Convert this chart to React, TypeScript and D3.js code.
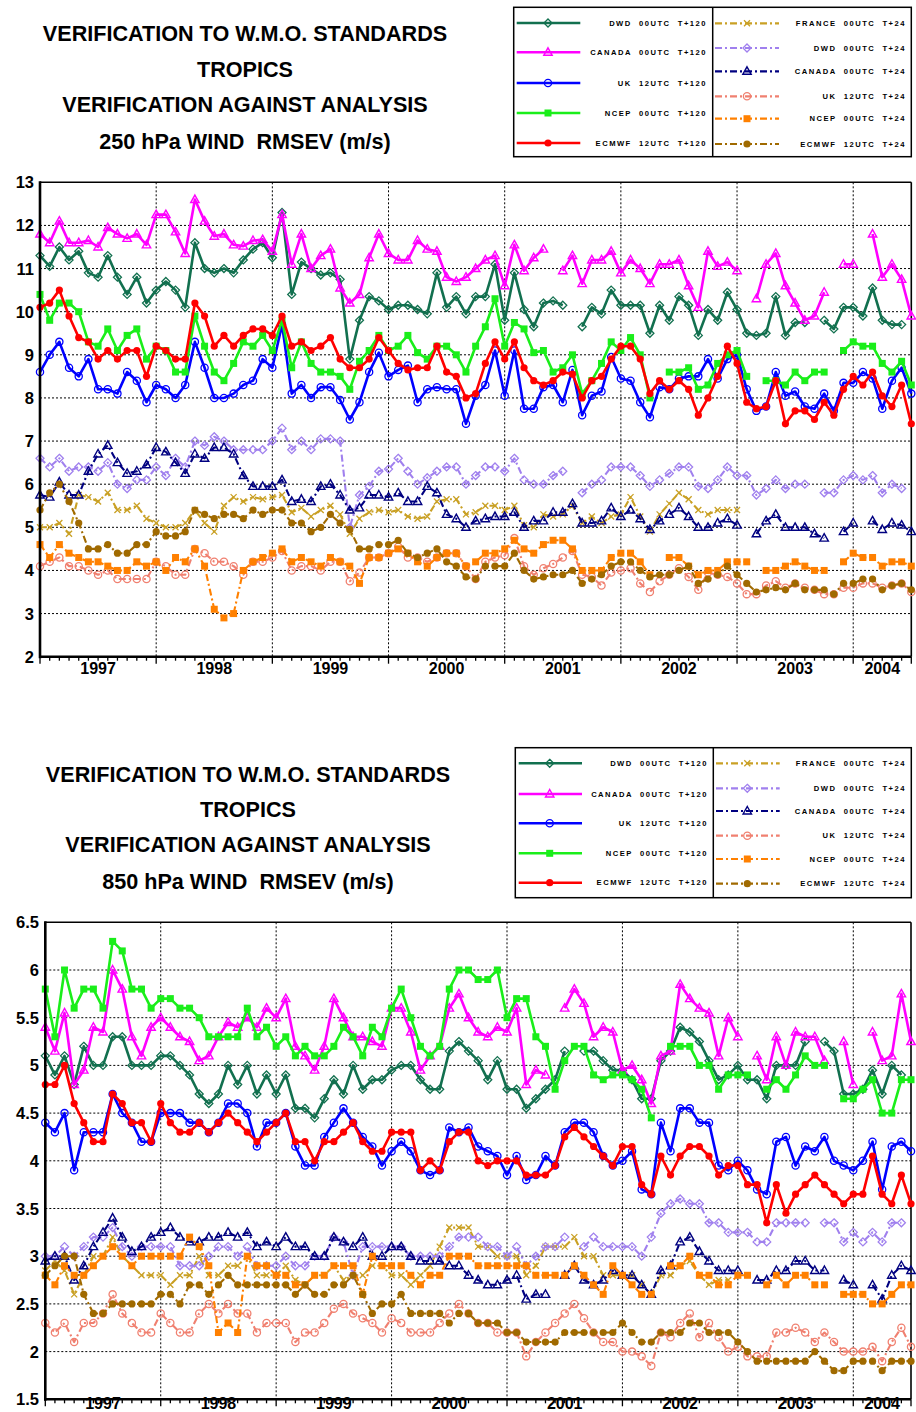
import React from "react";
import * as d3 from "d3";

const _ = null;
const N = 91;
const MONTHS = d3.range(N);
const YEARS = ["1997", "1998", "1999", "2000", "2001", "2002", "2003", "2004"];
const YEAR_BOUNDS = [0, 12, 24, 36, 48, 60, 72, 84, 90];
const Y_TICKS_250 = [2, 3, 4, 5, 6, 7, 8, 9, 10, 11, 12, 13];
const Y_TICKS_850 = [1.5, 2, 2.5, 3, 3.5, 4, 4.5, 5, 5.5, 6, 6.5];
const TITLE_250 = ["VERIFICATION TO W.M.O. STANDARDS", "TROPICS", "VERIFICATION AGAINST ANALYSIS", "250 hPa WIND  RMSEV (m/s)"];
const TITLE_850 = ["VERIFICATION TO W.M.O. STANDARDS", "TROPICS", "VERIFICATION AGAINST ANALYSIS", "850 hPa WIND  RMSEV (m/s)"];

// ---------- 250 hPa ----------
const DWD120_250 = [11.3, 11.05, 11.5, 11.2, 11.4, 10.9, 10.8, 11.3, 10.8, 10.4, 10.8, 10.2, 10.5, 10.7, 10.5, 10.1, 11.6, 11.0, 10.9, 11.0, 10.9,
  11.2, 11.45, 11.6, 11.25, 12.3, 10.4, 11.15, 11.0, 10.85, 10.9, 10.75, 8.9, 9.8, 10.35, 10.25, 10.05, 10.15, 10.15, 10.05, 9.95, 10.9, 10.1, 10.35, 9.95,
  10.35, 10.35, 11.1, 9.8, 10.9, 10.05, 9.65, 10.2, 10.25, 10.15, _, 9.65, 10.1, 9.95, 10.5, 10.15, 10.15, 10.15, 9.5, 10.15, 9.8, 10.35, 10.15,
  9.45, 10.05, 9.8, 10.45, 10.05, 9.5, 9.45, 9.5, 10.35, 9.45, 9.75, 9.75, _, 9.8, 9.6, 10.1, 10.1, 9.9, 10.55, 9.8, 9.7, 9.7, _];
const CAN120_250 = [11.8, 11.6, 12.1, 11.6, 11.6, 11.65, 11.5, 11.95, 11.8, 11.7, 11.8, 11.55, 12.25, 12.25, 11.85, 11.35, 12.6, 12.1, 11.75, 11.8, 11.55,
  11.52, 11.65, 11.67, 11.4, 12.25, 11.1, 11.8, 11.0, 11.3, 11.45, 10.55, 10.2, 10.4, 11.25, 11.8, 11.35, 11.2, 11.2, 11.65, 11.45, 11.4, 10.8, 10.7, 10.8,
  11.0, 11.2, 11.3, 10.6, 11.55, 10.95, 11.25, 11.45, _, 10.95, 11.3, 10.65, 11.2, 11.2, 11.4, 10.9, 11.2, 11.0, 10.65, 11.1, 11.1, 11.2, 10.6,
  10.1, 11.4, 11.05, 11.15, 10.95, _, 10.3, 11.1, 11.35, 10.6, 10.2, 9.8, 9.9, 10.45, _, 11.1, 11.1, _, 11.8, 10.8, 11.1, 10.75, 9.9];
const UK120_250 = [8.6, 9.0, 9.3, 8.7, 8.5, 8.9, 8.2, 8.2, 8.1, 8.6, 8.4, 7.9, 8.3, 8.2, 8.0, 8.3, 9.3, 8.7, 8.0, 8.0, 8.1,
  8.3, 8.4, 8.9, 8.7, 9.7, 8.1, 8.3, 8.0, 8.25, 8.25, 7.95, 7.5, 7.9, 8.6, 9.05, 8.5, 8.65, 8.75, 7.9, 8.2, 8.25, 8.2, 8.2, 7.4,
  8.05, 8.3, 9.1, 8.05, 9.1, 7.75, 7.75, 8.25, 8.3, 7.9, 8.65, 7.6, 8.05, 8.15, 8.95, 8.45, 8.4, 7.9, 7.55, 8.25, 8.2, 8.45, 8.5,
  8.5, 8.9, 8.45, 8.9, 9.0, 8.2, 7.7, 7.8, 8.6, 8.05, 8.15, 7.8, 7.75, 8.1, 7.7, 8.35, 8.35, 8.6, 8.45, 7.75, 8.4, 8.7, 8.1];
const NCEP120_250 = [10.4, 9.8, 10.2, 10.2, 10.0, 9.3, 9.2, 9.6, 9.1, 9.45, 9.6, 8.9, 9.2, 9.1, 8.6, 8.6, 9.9, 9.2, 8.6, 8.4, 8.8,
  9.3, 9.2, 9.45, 9.1, 9.8, 8.7, 9.3, 8.8, 8.6, 8.6, 8.5, 8.2, 8.85, 9.1, 9.45, 9.1, 9.2, 9.45, 9.05, 8.9, 9.2, 9.2, 9.0, 8.6,
  9.2, 9.65, 10.3, 9.2, 9.75, 9.6, 9.05, 9.1, 8.6, 8.7, 9.0, 8.1, 8.4, 8.8, 9.3, 9.1, 9.4, 9.0, 8.0, _, 8.6, 8.6, 8.7,
  8.2, 8.3, 8.8, 9.0, 9.1, 8.5, _, 8.4, 8.4, 8.3, 8.6, 8.4, 8.6, 8.6, _, 9.1, 9.3, 9.2, 9.2, 8.8, 8.6, 8.85, 8.3];
const ECM120_250 = [10.1, 10.2, 10.5, 9.9, 9.4, 9.3, 8.9, 9.1, 8.9, 9.1, 9.1, 8.5, 9.2, 9.1, 8.9, 8.9, 10.2, 9.9, 9.2, 9.45, 9.2,
  9.45, 9.6, 9.6, 9.45, 9.9, 9.2, 9.3, 9.1, 9.2, 9.4, 8.9, 8.7, 8.7, 8.9, 9.4, 9.1, 8.8, 8.65, 8.7, 8.7, 9.2, 8.6, 8.5, 8.0,
  8.1, 8.8, 9.3, 8.9, 9.3, 8.7, 8.4, 8.3, 8.4, 8.6, 8.55, 8.0, 8.4, 8.5, 8.9, 9.2, 9.2, 8.9, 8.1, 8.4, 8.2, 8.4, 8.2,
  7.6, 8.0, 8.5, 9.2, 8.8, 7.9, 7.75, 7.8, 8.4, 7.4, 7.7, 7.7, 7.5, 7.9, 7.6, 8.2, 8.5, 8.3, 8.6, 8.05, 7.8, 8.3, 7.4];
const FRA24_250 = [5.0, 5.0, 5.1, 4.85, 5.75, 5.7, 5.6, 5.8, 5.4, 5.4, 5.5, 5.2, 5.1, 5.0, 5.0, 5.1, 5.4, 5.1, 4.9, 5.5, 5.7,
  5.6, 5.7, 5.65, 5.7, 5.75, 5.35, 5.45, 5.25, 5.4, 5.5, 5.3, 4.85, 5.2, 5.35, 5.4, 5.35, 5.4, 5.25, 5.2, 5.25, 5.6, 5.65, 5.65, 5.3,
  5.35, 5.5, 5.5, 5.4, 5.5, 5.05, 5.0, 5.3, 5.25, 5.3, 5.5, 5.1, 5.25, 5.1, 5.25, 5.3, 5.7, 5.25, 4.9, 5.3, 5.55, 5.8, 5.65,
  5.4, 5.3, 5.4, 5.4, 5.4, _, _, _, _, _, _, _, _, _, _, _, _, _, _, _, _, _, _];
const DWD24_250 = [6.6, 6.4, 6.6, 6.3, 6.4, 6.4, 6.3, 6.5, 6.0, 5.9, 6.1, 6.1, 6.4, 6.2, 6.6, 6.4, 7.0, 6.9, 7.1, 7.0, 6.8,
  6.8, 6.8, 6.8, 7.0, 7.3, 6.8, 7.0, 6.8, 7.05, 7.05, 7.0, 5.0, 5.75, 5.95, 6.3, 6.35, 6.6, 6.3, 6.0, 6.15, 6.3, 6.4, 6.4, 6.0,
  6.2, 6.4, 6.4, 6.3, 6.6, 6.1, 6.0, 6.0, 6.2, 6.3, _, 5.8, 6.0, 6.1, 6.4, 6.4, 6.4, 6.2, 5.95, 6.1, 6.25, 6.4, 6.4,
  5.95, 5.9, 6.1, 6.4, 6.2, 6.2, 5.75, 5.9, 6.1, 5.9, 6.0, 6.0, _, 5.8, 5.8, 6.1, 6.2, 6.1, 6.2, 5.8, 6.0, 5.9, _];
const CAN24_250 = [5.75, 5.7, 6.05, 5.75, 5.75, 6.3, 6.7, 6.9, 6.5, 6.25, 6.3, 6.45, 6.85, 6.75, 6.5, 6.25, 6.7, 6.6, 6.85, 6.85, 6.7,
  6.2, 5.95, 5.95, 5.95, 6.1, 5.6, 5.65, 5.6, 5.95, 6.0, 5.75, 5.4, 5.45, 5.75, 5.75, 5.7, 5.8, 5.6, 5.6, 5.95, 5.8, 5.3, 5.2, 5.0,
  5.15, 5.2, 5.25, 5.25, 5.35, 5.0, 5.15, 5.15, 5.35, 5.35, 5.55, 5.1, 5.1, 5.15, 5.45, 5.25, 5.4, 5.2, 4.95, 5.15, 5.3, 5.45, 5.25,
  5.0, 5.0, 5.1, 5.2, 5.05, _, 4.85, 5.15, 5.3, 5.0, 5.0, 5.0, 4.85, 4.75, _, 4.9, 5.1, _, 5.15, 4.95, 5.1, 5.05, 4.9];
const UK24_250 = [4.1, 4.2, 4.3, 4.1, 4.1, 4.0, 3.9, 4.0, 3.8, 3.8, 3.8, 3.8, 4.2, 4.1, 3.9, 3.9, 4.5, 4.4, 4.2, 4.2, 4.1,
  3.9, 4.2, 4.2, 4.3, 4.45, 4.0, 4.1, 4.1, 4.0, 4.2, 4.2, 3.75, 3.95, 4.3, 4.3, 4.4, 4.55, 4.3, 4.3, 4.2, 4.3, 4.4, 4.4, 4.1,
  3.8, 4.2, 4.3, 4.35, 4.75, 4.1, 3.9, 4.05, 4.15, 4.3, 4.45, 3.9, 3.85, 3.65, 3.95, 4.0, 4.05, 3.7, 3.5, 3.75, 3.9, 4.05, 3.85,
  3.55, 3.95, 3.9, 3.85, 3.7, 3.45, 3.45, 3.65, 3.75, 3.6, 3.7, 3.6, 3.55, 3.45, 3.45, 3.6, 3.6, 3.7, 3.7, 3.6, 3.65, 3.7, 3.5];
const NCEP24_250 = [4.6, 4.3, 4.6, 4.4, 4.3, 4.2, 4.2, 4.1, 4.0, 4.0, 4.2, 4.1, 4.2, 4.0, 4.3, 4.2, 4.5, 4.1, 3.1, 2.9, 3.0,
  4.0, 4.2, 4.3, 4.4, 4.5, 4.2, 4.3, 4.2, 4.1, 4.3, 4.2, 4.1, 3.7, 4.3, 4.3, 4.4, 4.5, 4.4, 4.2, 4.1, 4.3, 4.4, 4.4, 4.1,
  4.2, 4.4, 4.4, 4.5, 4.7, 4.5, 4.4, 4.6, 4.7, 4.7, 4.5, 4.0, 4.0, 4.0, 4.3, 4.4, 4.4, 4.2, 3.9, _, 4.3, 4.3, 4.1,
  3.9, 4.0, 4.0, 4.2, 4.2, 4.2, _, 4.0, 4.0, 4.1, 4.2, 4.1, 4.0, 4.0, _, 4.2, 4.4, 4.3, 4.3, 4.1, 4.2, 4.2, 4.1];
const ECM24_250 = [5.4, 5.8, 6.0, 5.6, 5.1, 4.5, 4.5, 4.6, 4.4, 4.4, 4.6, 4.6, 4.9, 4.8, 4.8, 4.9, 5.4, 5.3, 5.2, 5.3, 5.3,
  5.2, 5.4, 5.3, 5.4, 5.4, 5.1, 5.1, 4.9, 5.0, 5.3, 5.1, 4.95, 4.5, 4.5, 4.6, 4.6, 4.7, 4.4, 4.3, 4.4, 4.5, 4.2, 4.1, 3.85,
  3.8, 4.1, 4.1, 4.1, 4.4, 4.0, 3.8, 3.85, 3.9, 3.9, 4.0, 3.7, 3.8, 3.9, 4.1, 4.2, 4.2, 4.0, 3.85, 3.9, 3.9, 4.0, 4.1,
  3.7, 3.8, 3.9, 4.1, 3.9, 3.7, 3.5, 3.55, 3.6, 3.55, 3.7, 3.55, 3.55, 3.55, 3.45, 3.7, 3.7, 3.8, 3.8, 3.55, 3.65, 3.7, 3.55];

// ---------- 850 hPa ----------
const DWD120_850 = [5.1, 4.9, 5.1, 4.8, 5.2, 5.0, 5.0, 5.3, 5.3, 5.0, 5.0, 5.0, 5.1, 5.1, 5.0, 4.9, 4.7, 4.6, 4.7, 5.0, 4.8,
  5.0, 4.7, 4.9, 4.7, 4.9, 4.55, 4.55, 4.45, 4.65, 4.85, 4.7, 5.0, 4.75, 4.85, 4.85, 4.95, 5.0, 5.0, 4.85, 4.75, 4.75, 5.15, 5.25, 5.15,
  5.05, 4.85, 5.05, 4.75, 4.75, 4.55, 4.65, 4.75, 4.85, 5.15, _, 5.15, 5.15, 5.05, 4.95, 4.95, 4.85, 4.65, 4.65, 5.05, 5.15, 5.4, 5.35,
  5.25, 5.05, 4.85, 4.9, 5.0, 4.85, 4.85, 4.65, 5.0, 5.0, 5.0, 5.25, _, 5.25, 5.15, 4.7, 4.7, 4.75, 4.95, 4.7, 5.0, 4.9, _];
const CAN120_850 = [5.4, 5.15, 5.55, 4.8, 4.95, 5.4, 5.35, 6.0, 5.8, 5.3, 5.1, 5.4, 5.5, 5.4, 5.3, 5.25, 5.05, 5.1, 5.3, 5.45, 5.4,
  5.5, 5.4, 5.6, 5.5, 5.7, 5.2, 5.1, 4.95, 5.2, 5.7, 5.5, 5.3, 5.3, 5.25, 5.2, 5.6, 5.6, 5.35, 4.95, 5.1, 5.2, 5.6, 5.75, 5.5,
  5.35, 5.3, 5.4, 5.35, 5.6, 4.8, 4.95, 4.9, _, 5.6, 5.8, 5.65, 5.3, 5.4, 5.35, 4.95, 5.0, 4.85, 4.6, 5.1, 5.15, 5.85, 5.7,
  5.6, 5.55, 5.1, 5.5, 5.3, _, 5.1, 4.85, 5.3, 5.0, 5.35, 5.3, 5.3, 5.05, _, 5.25, 4.8, _, 5.35, 5.05, 5.1, 5.75, 5.25];
const UK120_850 = [4.4, 4.3, 4.5, 3.9, 4.3, 4.3, 4.3, 4.7, 4.5, 4.4, 4.2, 4.2, 4.5, 4.5, 4.5, 4.4, 4.4, 4.3, 4.4, 4.6, 4.6,
  4.5, 4.15, 4.4, 4.4, 4.5, 4.15, 3.95, 3.95, 4.25, 4.4, 4.55, 4.4, 4.25, 4.15, 3.95, 4.1, 4.2, 4.1, 3.9, 3.85, 3.9, 4.35, 4.3, 4.35,
  4.15, 4.1, 4.05, 3.85, 4.05, 3.8, 3.85, 4.05, 3.95, 4.3, 4.4, 4.4, 4.3, 4.05, 3.95, 4.0, 4.1, 3.7, 3.65, 4.4, 4.1, 4.55, 4.55,
  4.4, 4.4, 3.95, 3.9, 4.0, 3.9, 3.7, 3.65, 4.2, 4.25, 3.95, 4.15, 4.1, 4.25, 4.0, 3.95, 3.9, 4.0, 4.2, 3.7, 4.15, 4.2, 4.1];
const NCEP120_850 = [5.8, 5.3, 6.0, 5.6, 5.8, 5.8, 5.6, 6.3, 6.2, 5.8, 5.8, 5.6, 5.7, 5.7, 5.6, 5.6, 5.5, 5.3, 5.3, 5.3, 5.3,
  5.6, 5.3, 5.4, 5.2, 5.3, 5.1, 5.2, 5.1, 5.1, 5.2, 5.4, 5.3, 5.1, 5.4, 5.3, 5.6, 5.8, 5.5, 5.2, 5.1, 5.2, 5.8, 6.0, 6.0,
  5.9, 5.9, 6.0, 5.5, 5.7, 5.7, 5.3, 5.2, 4.75, 5.05, 5.2, 5.2, 4.9, 4.85, 4.9, 4.9, 4.85, 4.75, 4.45, _, 5.2, 5.2, 5.2,
  5.0, 5.0, 4.75, 4.9, 4.9, 4.9, _, 4.75, 4.85, 4.75, 4.9, 5.1, 5.0, 5.0, _, 4.65, 4.65, 4.75, 4.85, 4.5, 4.5, 4.85, 4.85];
const ECM120_850 = [4.8, 4.8, 5.0, 4.6, 4.4, 4.2, 4.2, 4.7, 4.6, 4.4, 4.4, 4.2, 4.6, 4.4, 4.3, 4.3, 4.4, 4.3, 4.4, 4.5, 4.4,
  4.3, 4.2, 4.3, 4.4, 4.5, 4.2, 4.2, 4.0, 4.2, 4.2, 4.3, 4.4, 4.2, 4.1, 4.1, 4.3, 4.3, 4.3, 3.9, 4.0, 3.9, 4.2, 4.3, 4.3,
  4.0, 3.95, 4.0, 4.0, 4.0, 3.85, 3.85, 3.85, 3.95, 4.25, 4.35, 4.25, 4.15, 4.05, 3.95, 4.15, 4.15, 3.75, 3.65, 4.05, 3.85, 4.05, 4.15,
  4.15, 4.05, 3.85, 3.95, 3.95, 3.75, 3.75, 3.35, 3.75, 3.45, 3.65, 3.75, 3.85, 3.75, 3.65, 3.55, 3.65, 3.65, 4.05, 3.65, 3.55, 3.85, 3.55];
const FRA24_850 = [2.85, 2.95, 2.85, 2.6, 2.8, 3.0, 3.0, 3.2, 3.0, 2.9, 2.8, 2.8, 2.8, 2.7, 2.8, 2.8, 3.0, 2.8, 2.8, 2.9, 2.9,
  3.0, 2.8, 2.8, 2.8, 2.9, 2.75, 2.7, 2.8, 2.8, 2.9, 2.75, 2.8, 2.8, 2.9, 2.9, 2.8, 2.8, 2.7, 2.8, 2.9, 3.1, 3.3, 3.3, 3.3,
  3.1, 3.1, 3.0, 3.0, 3.0, 2.8, 2.9, 3.1, 3.1, 3.1, 3.2, 3.0, 3.0, 2.8, 2.8, 2.8, 2.8, 2.7, 2.6, 2.8, 2.8, 2.9, 2.95,
  2.8, 2.7, 2.75, 2.75, _, _, _, _, _, _, _, _, _, _, _, _, _, _, _, _, _, _, _];
const DWD24_850 = [3.0, 3.0, 3.1, 3.0, 3.1, 3.2, 3.2, 3.3, 3.1, 3.0, 3.1, 3.1, 3.1, 3.1, 2.9, 2.9, 2.9, 3.0, 3.1, 3.1, 3.0,
  3.1, 2.9, 2.9, 2.9, 3.0, 2.9, 2.9, 3.0, 3.0, 3.2, 3.15, 2.8, 3.1, 3.1, 3.1, 3.1, 3.1, 3.0, 3.0, 3.0, 3.0, 3.1, 3.2, 3.2,
  3.2, 3.1, 3.1, 3.0, 3.1, 2.9, 3.0, 3.1, 3.1, 3.2, _, 3.1, 3.2, 3.1, 3.1, 3.1, 3.1, 3.0, 3.2, 3.45, 3.55, 3.6, 3.55,
  3.55, 3.35, 3.35, 3.25, 3.25, 3.25, 3.15, 3.15, 3.35, 3.35, 3.35, 3.35, _, 3.35, 3.35, 3.15, 3.25, 3.15, 3.25, 3.15, 3.35, 3.35, _];
const CAN24_850 = [2.95, 3.0, 3.0, 2.75, 2.9, 3.1, 3.25, 3.4, 3.2, 3.05, 3.1, 3.2, 3.25, 3.3, 3.2, 3.15, 3.15, 3.2, 3.2, 3.25, 3.2,
  3.25, 3.1, 3.15, 3.1, 3.2, 3.1, 3.1, 3.0, 3.0, 3.2, 3.15, 3.1, 3.2, 3.0, 3.0, 3.1, 3.1, 3.0, 2.95, 2.95, 2.95, 2.9, 2.9, 2.8,
  2.75, 2.7, 2.7, 2.75, 2.8, 2.55, 2.6, 2.6, _, 2.8, 2.9, 2.75, 2.7, 2.75, 2.85, 2.8, 2.8, 2.7, 2.6, 2.85, 2.9, 3.15, 3.2,
  3.05, 2.95, 2.85, 2.85, 2.85, _, 2.75, 2.75, 2.85, 2.85, 2.95, 2.95, 2.85, 2.85, _, 2.75, 2.7, _, 2.7, 2.55, 2.8, 2.9, 2.85];
const UK24_850 = [2.3, 2.2, 2.3, 2.1, 2.3, 2.3, 2.4, 2.6, 2.4, 2.3, 2.2, 2.2, 2.4, 2.3, 2.2, 2.2, 2.4, 2.5, 2.4, 2.5, 2.4,
  2.4, 2.2, 2.3, 2.3, 2.3, 2.1, 2.2, 2.2, 2.3, 2.45, 2.5, 2.4, 2.35, 2.3, 2.2, 2.35, 2.3, 2.2, 2.2, 2.2, 2.3, 2.4, 2.5, 2.4,
  2.3, 2.3, 2.2, 2.2, 2.2, 1.95, 2.1, 2.2, 2.3, 2.4, 2.5, 2.35, 2.2, 2.1, 2.1, 2.0, 2.0, 1.95, 1.85, 2.2, 2.15, 2.3, 2.4,
  2.15, 2.3, 2.15, 2.0, 2.05, 1.95, 1.95, 1.95, 2.2, 2.2, 2.25, 2.2, 2.1, 2.2, 2.1, 2.0, 2.0, 2.0, 2.05, 1.9, 2.1, 2.25, 2.05];
const NCEP24_850 = [2.8, 2.7, 2.9, 2.8, 2.8, 2.9, 3.0, 3.1, 3.0, 2.9, 3.0, 3.0, 3.0, 3.0, 3.0, 3.2, 3.1, 2.9, 2.2, 2.3, 2.2,
  3.0, 2.9, 2.9, 2.8, 2.8, 2.7, 2.7, 2.8, 2.8, 2.9, 2.9, 2.9, 2.6, 3.0, 2.9, 2.9, 2.9, 2.8, 2.7, 2.8, 2.8, 3.0, 3.0, 3.0,
  2.9, 2.9, 2.9, 2.9, 2.9, 2.9, 2.8, 2.8, 2.8, 2.8, 2.9, 2.8, 2.7, 2.6, 2.9, 2.8, 2.7, 2.6, 2.6, _, 2.9, 2.9, 3.0,
  2.8, 2.8, 2.7, 2.7, 2.8, 2.8, _, 2.7, 2.8, 2.7, 2.8, 2.8, 2.7, 2.7, _, 2.6, 2.6, 2.6, 2.5, 2.5, 2.6, 2.7, 2.7];
const ECM24_850 = [2.8, 2.9, 3.0, 3.0, 2.6, 2.4, 2.4, 2.5, 2.5, 2.5, 2.5, 2.5, 2.6, 2.6, 2.5, 2.7, 2.7, 2.6, 2.7, 2.8, 2.7,
  2.7, 2.7, 2.7, 2.7, 2.7, 2.6, 2.7, 2.6, 2.6, 2.7, 2.7, 2.8, 2.6, 2.4, 2.5, 2.5, 2.6, 2.4, 2.4, 2.4, 2.4, 2.3, 2.4, 2.4,
  2.3, 2.3, 2.3, 2.2, 2.2, 2.1, 2.1, 2.1, 2.1, 2.2, 2.2, 2.2, 2.2, 2.2, 2.2, 2.3, 2.2, 2.1, 2.1, 2.2, 2.2, 2.2, 2.3,
  2.3, 2.2, 2.2, 2.2, 2.1, 2.0, 1.9, 1.9, 1.9, 1.9, 1.9, 1.9, 2.0, 1.9, 1.8, 1.8, 1.9, 1.9, 1.9, 1.8, 1.9, 1.9, 1.9];

// ---------- series styling ----------
type MarkerType = "diamond" | "triangle" | "circle" | "square" | "dot" | "cross";
interface SeriesStyle { label: string; color: string; dashed: boolean; marker: MarkerType; }

const STYLE_DWD120: SeriesStyle = { label: "DWD  00UTC  T+120", color: "#12704f", dashed: false, marker: "diamond" };
const STYLE_CAN120: SeriesStyle = { label: "CANADA  00UTC  T+120", color: "#ff00ff", dashed: false, marker: "triangle" };
const STYLE_UK120: SeriesStyle = { label: "UK  12UTC  T+120", color: "#0000ff", dashed: false, marker: "circle" };
const STYLE_NCEP120: SeriesStyle = { label: "NCEP  00UTC  T+120", color: "#1aee1a", dashed: false, marker: "square" };
const STYLE_ECM120: SeriesStyle = { label: "ECMWF  12UTC  T+120", color: "#ff0000", dashed: false, marker: "dot" };
const STYLE_FRA24: SeriesStyle = { label: "FRANCE  00UTC  T+24", color: "#c9a024", dashed: true, marker: "cross" };
const STYLE_DWD24: SeriesStyle = { label: "DWD  00UTC  T+24", color: "#a080ee", dashed: true, marker: "diamond" };
const STYLE_CAN24: SeriesStyle = { label: "CANADA  00UTC  T+24", color: "#000080", dashed: true, marker: "triangle" };
const STYLE_UK24: SeriesStyle = { label: "UK  12UTC  T+24", color: "#f08070", dashed: true, marker: "circle" };
const STYLE_NCEP24: SeriesStyle = { label: "NCEP  00UTC  T+24", color: "#ff8000", dashed: true, marker: "square" };
const STYLE_ECM24: SeriesStyle = { label: "ECMWF  12UTC  T+24", color: "#a06a00", dashed: true, marker: "dot" };

const LEFT_LEGEND = [STYLE_DWD120, STYLE_CAN120, STYLE_UK120, STYLE_NCEP120, STYLE_ECM120];
const RIGHT_LEGEND = [STYLE_FRA24, STYLE_DWD24, STYLE_CAN24, STYLE_UK24, STYLE_NCEP24, STYLE_ECM24];

const SERIES_250: [SeriesStyle, (number | null)[]][] = [
  [STYLE_FRA24, FRA24_250], [STYLE_DWD24, DWD24_250], [STYLE_CAN24, CAN24_250], [STYLE_UK24, UK24_250],
  [STYLE_NCEP24, NCEP24_250], [STYLE_ECM24, ECM24_250],
  [STYLE_DWD120, DWD120_250], [STYLE_CAN120, CAN120_250], [STYLE_UK120, UK120_250], [STYLE_NCEP120, NCEP120_250], [STYLE_ECM120, ECM120_250],
];
const SERIES_850: [SeriesStyle, (number | null)[]][] = [
  [STYLE_FRA24, FRA24_850], [STYLE_DWD24, DWD24_850], [STYLE_CAN24, CAN24_850], [STYLE_UK24, UK24_850],
  [STYLE_NCEP24, NCEP24_850], [STYLE_ECM24, ECM24_850],
  [STYLE_DWD120, DWD120_850], [STYLE_CAN120, CAN120_850], [STYLE_UK120, UK120_850], [STYLE_NCEP120, NCEP120_850], [STYLE_ECM120, ECM120_850],
];

const FONT = "'Liberation Sans', Arial, Helvetica, sans-serif";

function Marker({ type, x, y, color }: { type: MarkerType; x: number; y: number; color: string }) {
  switch (type) {
    case "diamond":
      return <path d={`M${x},${y - 4}L${x + 4},${y}L${x},${y + 4}L${x - 4},${y}Z`} fill="none" stroke={color} strokeWidth={1.3} />;
    case "triangle":
      return <path d={`M${x},${y - 4.5}L${x + 4.2},${y + 3}L${x - 4.2},${y + 3}Z`} fill="none" stroke={color} strokeWidth={1.4} />;
    case "circle":
      return <circle cx={x} cy={y} r={3.6} fill="none" stroke={color} strokeWidth={1.3} />;
    case "square":
      return <rect x={x - 3.5} y={y - 3.5} width={7} height={7} fill={color} />;
    case "dot":
      return <circle cx={x} cy={y} r={3.6} fill={color} />;
    case "cross":
      return <path d={`M${x - 3},${y - 3}L${x + 3},${y + 3}M${x - 3},${y + 3}L${x + 3},${y - 3}`} stroke={color} strokeWidth={1.3} fill="none" />;
  }
  return null;
}

interface PanelProps {
  left: number; right: number; top: number; bottom: number;
  yDomain: [number, number]; yTicks: number[]; yFmt: (v: number) => string;
  series: [SeriesStyle, (number | null)[]][];
  title: string[]; titleX: number; titleY: number[];
  legend: { x0: number; y0: number; x1: number; y1: number; div: number; leftRows: number[]; rightRows: number[]; lLine: [number, number, number]; lTextX: number; rLine: [number, number, number]; rTextX: number };
  labelRightX: number; yearLabelY: number;
}

function Panel(p: PanelProps) {
  const x = d3.scaleLinear().domain([0, N - 1]).range([p.left, p.right]);
  const y = d3.scaleLinear().domain(p.yDomain).range([p.bottom, p.top]);
  const line = d3.line<number | null>()
    .defined((d) => d != null)
    .x((_d, i) => x(MONTHS[i]))
    .y((d) => y(d as number));
  const L = p.legend;
  return (
    <g>
      {p.title.map((t, i) => (
        <text key={i} x={p.titleX} y={p.titleY[i]} textAnchor="middle" fontFamily={FONT} fontWeight="bold" fontSize={21.6} style={{ whiteSpace: "pre" }}>{t}</text>
      ))}
      {/* legend */}
      <rect x={L.x0} y={L.y0} width={L.x1 - L.x0} height={L.y1 - L.y0} fill="white" stroke="black" strokeWidth={1.5} />
      <line x1={L.div} x2={L.div} y1={L.y0} y2={L.y1} stroke="black" strokeWidth={1.5} />
      {LEFT_LEGEND.map((s, i) => (
        <g key={"l" + i}>
          <line x1={L.lLine[0]} x2={L.lLine[1]} y1={L.leftRows[i]} y2={L.leftRows[i]} stroke={s.color} strokeWidth={2.6} />
          <Marker type={s.marker} x={L.lLine[2]} y={L.leftRows[i]} color={s.color} />
          <text x={L.lTextX} y={L.leftRows[i] + 2.7} textAnchor="end" fontFamily={FONT} fontWeight="bold" fontSize={7.6} letterSpacing={1.5} style={{ whiteSpace: "pre" }}>{s.label}</text>
        </g>
      ))}
      {RIGHT_LEGEND.map((s, i) => (
        <g key={"r" + i}>
          <line x1={L.rLine[0]} x2={L.rLine[1]} y1={L.rightRows[i]} y2={L.rightRows[i]} stroke={s.color} strokeWidth={2.2} strokeDasharray="7,3,2,3" />
          <Marker type={s.marker} x={L.rLine[2]} y={L.rightRows[i]} color={s.color} />
          <text x={L.rTextX} y={L.rightRows[i] + 2.7} textAnchor="end" fontFamily={FONT} fontWeight="bold" fontSize={7.6} letterSpacing={1.5} style={{ whiteSpace: "pre" }}>{s.label}</text>
        </g>
      ))}
      {/* grid */}
      {p.yTicks.slice(1, -1).map((t) => (
        <line key={"hg" + t} x1={p.left} x2={p.right} y1={y(t)} y2={y(t)} stroke="black" strokeWidth={1} strokeDasharray="2,2" />
      ))}
      {YEAR_BOUNDS.slice(1, -1).map((m) => (
        <line key={"vg" + m} x1={x(m)} x2={x(m)} y1={p.top} y2={p.bottom} stroke="black" strokeWidth={1} strokeDasharray="2,2" />
      ))}
      {/* frame */}
      <line x1={p.left} x2={p.right} y1={p.top} y2={p.top} stroke="black" strokeWidth={1.6} />
      <line x1={p.right} x2={p.right} y1={p.top} y2={p.bottom} stroke="black" strokeWidth={1.6} />
      {/* month ticks */}
      {MONTHS.map((m) => (
        <line key={"mt" + m} x1={x(m)} x2={x(m)} y1={p.bottom} y2={p.bottom + (YEAR_BOUNDS.includes(m) ? 7 : 4)} stroke="black" strokeWidth={1.3} />
      ))}
      {/* series */}
      {p.series.map(([s, data], si) => (
        <g key={"s" + si}>
          <path d={line(data) || ""} fill="none" stroke={s.color} strokeWidth={s.dashed ? 2.1 : 2.6} strokeDasharray={s.dashed ? "7,3,2,3" : undefined} strokeLinejoin="round" />
          {data.map((v, i) => v == null ? null : <Marker key={i} type={s.marker} x={x(MONTHS[i])} y={y(v)} color={s.color} />)}
        </g>
      ))}
      {/* axes */}
      <line x1={p.left} x2={p.left} y1={p.top - 1} y2={p.bottom + 1.5} stroke="black" strokeWidth={2.6} />
      <line x1={p.left - 1} x2={p.right} y1={p.bottom} y2={p.bottom} stroke="black" strokeWidth={2.6} />
      {p.yTicks.map((t) => (
        <text key={"yl" + t} x={p.labelRightX} y={y(t) + 6} textAnchor="end" fontFamily={FONT} fontWeight="bold" fontSize={16.5}>{p.yFmt(t)}</text>
      ))}
      {YEARS.map((yr, i) => (
        <text key={yr} x={x((YEAR_BOUNDS[i] + YEAR_BOUNDS[i + 1]) / 2)} y={p.yearLabelY} textAnchor="middle" fontFamily={FONT} fontWeight="bold" fontSize={16}>{yr}</text>
      ))}
    </g>
  );
}

export default function App() {
  return (
    <svg width={916} height={1412} viewBox="0 0 916 1412" style={{ position: "absolute", left: 0, top: 0, background: "white" }}>
      <rect x={0} y={0} width={916} height={1412} fill="white" />
      <Panel
        left={40} right={911.3} top={182.3} bottom={656.7}
        yDomain={[2, 13]} yTicks={Y_TICKS_250} yFmt={(v) => String(v)}
        series={SERIES_250}
        title={TITLE_250} titleX={245} titleY={[41, 77, 112, 149]}
        legend={{ x0: 513.7, y0: 7.3, x1: 911.3, y1: 156.7, div: 712.7, leftRows: [23, 52.3, 83, 113, 143], rightRows: [23.3, 48, 71.3, 96.3, 118.7, 144], lLine: [516.7, 580.3, 548], lTextX: 707, rLine: [715, 779, 747], rTextX: 906 }}
        labelRightX={34} yearLabelY={674}
      />
      <Panel
        left={45.3} right={911} top={922.3} bottom={1399.3}
        yDomain={[1.5, 6.5]} yTicks={Y_TICKS_850} yFmt={(v) => String(v)}
        series={SERIES_850}
        title={TITLE_850} titleX={248} titleY={[782, 817, 852, 889]}
        legend={{ x0: 515.3, y0: 747.7, x1: 911.3, y1: 897.7, div: 713.3, leftRows: [763.3, 794, 823.3, 853.3, 882.7], rightRows: [763.3, 788.3, 811, 835.7, 859, 883.7], lLine: [518.7, 582, 549.7], lTextX: 708, rLine: [716, 779.7, 747.3], rTextX: 906 }}
        labelRightX={39} yearLabelY={1409}
      />
    </svg>
  );
}
